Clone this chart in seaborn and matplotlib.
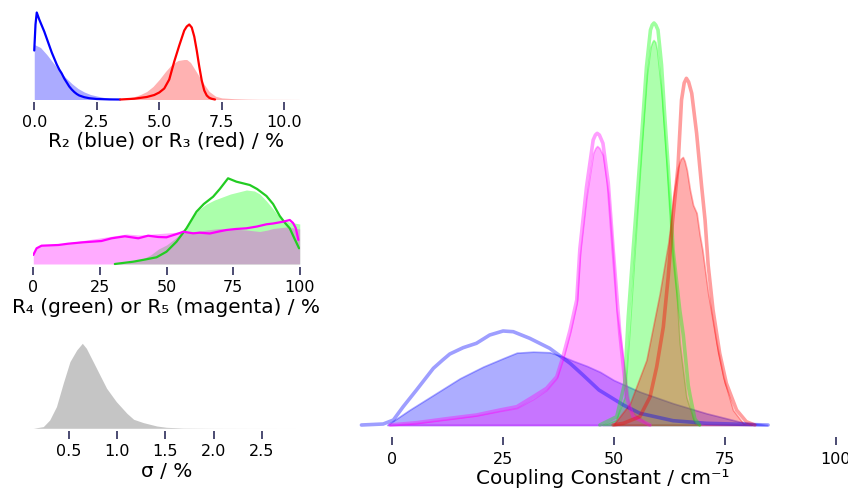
import numpy as np
import matplotlib
matplotlib.use("Agg")
import matplotlib.pyplot as plt
import seaborn as sns

# ---- panel 1: R2 (blue) / R3 (red), %
r2_hist_x = [0.0, 0.25, 0.5, 0.75, 1.0, 1.25, 1.5, 1.75, 2.0, 2.25, 2.5, 2.75, 3.0, 3.25, 3.5, 4.0]
r2_hist_y = [55, 52, 45, 37, 29, 22, 16, 11, 7.5, 5, 3.5, 2.2, 1.3, 0.7, 0.3, 0]
r2_kde_x = [0.0, 0.05, 0.1, 0.2, 0.3, 0.4, 0.5, 0.6, 0.7, 0.8, 0.9, 1.0, 1.1, 1.2, 1.3,
            1.4, 1.5, 1.6, 1.7, 1.8, 2.0, 2.2, 2.5, 3.0, 3.43]
r2_kde_y = [49, 75, 87, 80, 74, 68, 61, 54, 47, 41, 35, 30, 26, 21, 17,
            13, 10, 7.5, 5.5, 4, 2.3, 1.3, 0.5, 0.1, 0]
r3_hist_x = [3.4, 3.7, 4.0, 4.25, 4.5, 4.75, 5.0, 5.25, 5.5, 5.75, 6.0, 6.1, 6.25, 6.4,
             6.6, 6.8, 7.0, 7.25, 7.5, 8.0, 8.5, 9.0, 10.0, 10.6]
r3_hist_y = [0.3, 1.3, 2.8, 5, 8, 13, 20, 28, 35, 39, 40, 40, 37, 31,
             23, 15, 8, 3.3, 1.6, 0.8, 0.4, 0.2, 0.1, 0.05]
r3_kde_x = [3.44, 4.0, 4.5, 4.8, 5.0, 5.2, 5.4, 5.6, 5.8, 6.0, 6.1, 6.2, 6.3, 6.4, 6.5,
            6.6, 6.7, 6.8, 6.9, 7.0, 7.1, 7.23]
r3_kde_y = [0, 0.8, 2.5, 4.5, 7, 11, 20, 38, 54, 69, 73, 75, 72, 63, 49,
            33, 19, 9, 4, 1.7, 0.7, 0]

# ---- panel 2: R4 (green) / R5 (magenta), %
r4_hist_x = [31, 35, 38, 41, 44, 47, 50, 53, 56, 59, 62, 65, 68, 71, 74, 77, 80, 83, 85,
             87.5, 90, 92, 94, 96, 98, 100]
r4_hist_y = [0, 1, 2.5, 5, 9, 15, 19, 25, 32, 44, 54, 60, 64, 67, 70, 72, 74, 73, 70,
             63, 55, 48, 44, 42, 41, 40]
r4_kde_x = [30.6, 37.5, 42, 46.25, 50, 53.75, 57.5, 61.25, 64, 67.5, 70, 73.1, 76.25, 79,
            81.25, 84, 87.5, 90, 92.5, 94.5, 96.25, 98.1, 99.75]
r4_kde_y = [0, 2.3, 4.5, 6.7, 12.3, 22.3, 35.7, 52.3, 60, 67.3, 75, 85.7, 82.3, 80.5,
            79, 75, 68, 60, 48, 41, 35.7, 25, 15.7]
r5_hist_x = [0, 1, 3, 10, 15, 20, 25, 30, 35, 40, 45, 50, 55, 60, 65, 70, 75, 80, 85, 88,
             90, 95, 98, 100]
r5_hist_y = [10, 16, 19, 20, 22, 24, 26, 28, 30, 29, 30, 31, 32, 32, 34, 35.5, 35, 34, 32.5,
             34, 35.5, 37, 36, 35]
r5_kde_x = [0, 1.25, 3.1, 9.4, 13.1, 18.75, 25.6, 29.4, 34.4, 39.4, 43.1, 46.9, 50, 55,
            56.25, 60, 62.5, 66.25, 70, 72.5, 76, 80, 84, 87.5, 90, 93.75, 96.25, 97.5,
            98.5, 99.5]
r5_kde_y = [9, 15.7, 18.3, 19, 20.3, 21.7, 23, 25.7, 27.7, 25.7, 28.3, 27, 26.7, 31,
            32.3, 30.7, 31.3, 30.5, 32.7, 34, 35, 35.7, 37.5, 39.7, 40.5, 42.3, 44, 41,
            36, 24]

# ---- panel 3: sigma, %
sigma_x = [0.13, 0.234, 0.30, 0.37, 0.44, 0.51, 0.58, 0.638, 0.68, 0.75, 0.82, 0.89, 0.99,
           1.1, 1.17, 1.27, 1.41, 1.51, 1.68, 2.0, 2.5, 2.89]
sigma_y = [0, 1.7, 8.3, 21.7, 45, 66.7, 78.3, 85, 80, 66.7, 53.3, 40, 26.7,
           15, 9, 5.7, 2.3, 1, 0.3, 0.1, 0.03, 0]

# ---- big panel: coupling constants, cm-1
j_blue_hist_x = [-1, 4, 9.4, 15.4, 20.6, 25.1, 28.2, 31.9, 35.6, 38.6, 41, 44, 47, 50,
                 55.9, 63.4, 70.9, 78.4, 84.6]
j_blue_hist_y = [0, 15, 30, 46.7, 58.3, 66.7, 72.3, 73.3, 72.7, 68.3, 64, 59, 53, 45,
                 33.3, 21.7, 11.7, 3.3, 0]
j_blue_kde_x = [-6.8, -1.9, 0.4, 2.6, 5.6, 9.4, 11.5, 13.1, 16.1, 19.1, 22.1, 25.1, 27.4,
                31.1, 35.6, 40.2, 43.1, 46.7, 52.2, 55.9, 63.4, 70.9, 84.8]
j_blue_kde_y = [0, 1, 5, 18.3, 35, 56.7, 65, 71, 77.3, 81.7, 90, 94, 93.3,
                86.7, 76.7, 61.7, 50, 35, 20, 11.7, 4.3, 1.7, 0]
j_mag_hist_x = [-0.4, 5.6, 13.1, 19.1, 24.4, 28.2, 31.9, 34.9, 37.2, 38.6, 40.2, 41.7, 42.4,
                43.9, 45.4, 45.9, 46.3, 46.8, 47.6, 48.8, 49.9, 50.7, 52.2, 53.7, 57.4, 58.2]
j_mag_hist_y = [0, 2, 6, 9.5, 14, 17, 26, 35, 47, 66, 92, 122, 170,
                228, 272, 277, 279, 277, 270, 232, 170, 115, 65, 15, 1.7, 0]
j_mag_kde_x = [-0.4, 5.6, 13.1, 19.1, 24.4, 28.2, 31.9, 34.9, 37.2, 38.6, 40.2, 41.7, 42.4,
               43.9, 45.4, 45.9, 46.3, 46.8, 47.6, 48.8, 49.9, 51.4, 52.9, 54.4, 58.2]
j_mag_kde_y = [0, 2.3, 6.7, 10, 15, 18.3, 28.3, 36.7, 48.3, 68.3, 95, 125, 176,
               238, 285, 290, 291.7, 290, 281.7, 242, 175.7, 91.7, 28, 8.3, 0]
j_green_hist_x = [47.5, 50.5, 52.5, 53.5, 54.6, 55.5, 56.5, 57.5, 58.3, 58.7, 59.0, 59.4,
                  59.8, 60.8, 61.9, 62.7, 63.4, 64.2, 64.9, 66.4, 68.3, 69.4]
j_green_hist_y = [0, 5, 28, 90, 165, 225, 290, 350, 378, 383, 385, 383,
                  375, 332, 265, 215, 170, 131.7, 81.7, 28, 1.7, 0]
j_green_kde_x = [46.9, 50.7, 52.5, 53.3, 54.4, 55.5, 56.5, 57.4, 58.3, 58.7, 59.1, 59.5,
                 60.0, 60.8, 61.5, 62.3, 63.1, 63.4, 64.9, 65.7, 66.8, 67.2, 68.3, 69.4]
j_green_kde_y = [0, 8.3, 41.7, 108, 175, 240, 300, 358, 395, 400, 402, 400,
                 395, 360, 310, 258, 200, 175, 115, 90, 40, 30, 6, 0]
j_red_hist_x = [49.9, 53.7, 57.4, 60.4, 62.3, 62.7, 63.4, 64.5, 65.1, 65.6, 66.0, 66.5,
                67.2, 67.9, 68.7, 69.4, 70.0, 71.3, 73.2, 74.7, 76.9, 79.2, 81.1]
j_red_hist_y = [0, 21.7, 65, 131.7, 181.7, 195, 228, 258, 266, 268, 264, 255,
                235, 220, 212, 190, 175, 131.7, 81.7, 48.3, 15, 1.7, 0]
j_red_kde_x = [49.9, 52.2, 55.9, 58.2, 59.7, 61.2, 62.3, 63.2, 64.5, 65.3, 65.9, 66.4,
               66.9, 67.6, 68.7, 69.8, 70.6, 71.3, 72.4, 73.9, 75.4, 77.7, 79.9, 81.8]
j_red_kde_y = [0, 1.7, 8.3, 28, 58, 98, 148, 200, 258, 325, 342, 346.7,
               343, 331.7, 291.7, 240, 205, 160, 115, 71.7, 41.7, 15, 3.3, 0]

sns.set_style("white")
plt.rcParams['font.family'] = ['DejaVu Sans']

W, H = 848, 488
fig = plt.figure(figsize=(W / 100, H / 100), dpi=100)


def px_axes(left, right, top, bottom):
    # axes box given in pixel coords of the output picture
    return fig.add_axes([left / W, 1 - bottom / H, (right - left) / W, (bottom - top) / H])


def style(ax, ticks, labels, xlabel, pad, lpad):
    sns.despine(ax=ax, left=True, bottom=True)
    ax.set_yticks([])
    ax.set_xticks(ticks)
    ax.set_xticklabels(labels)
    ax.tick_params(axis='x', direction='out', length=6, width=1.2, color='#2c2c5a',
                   labelsize=11.5, labelcolor='black', pad=pad, bottom=True)
    ax.set_xlabel(xlabel, fontsize=14.4, color='black', labelpad=lpad)
    ax.set_ylabel("")
    ax.patch.set_alpha(0)


# panel 1
ax1 = px_axes(33, 300, 10, 102)
ax1.fill_between(r2_hist_x, r2_hist_y, color='blue', alpha=0.33, lw=0)
ax1.fill_between(r3_hist_x, r3_hist_y, color='red', alpha=0.3, lw=0)
sns.lineplot(x=r2_kde_x, y=r2_kde_y, ax=ax1, color='#0000ff', linewidth=1.6)
sns.lineplot(x=r3_kde_x, y=r3_kde_y, ax=ax1, color='#ff0000', linewidth=1.6)
ax1.set_xlim(-0.05, 10.63)
ax1.set_ylim(-2.5, 89.5)
style(ax1, [0, 2.5, 5, 7.5, 10], ["0.0", "2.5", "5.0", "7.5", "10.0"],
      "R\u2082 (blue) or R\u2083 (red) / %", 3.5, 1)

# panel 2
ax2 = px_axes(33, 300, 175, 267)
ax2.fill_between(r4_hist_x, r4_hist_y, color='lime', alpha=0.33, lw=0)
ax2.fill_between(r5_hist_x, r5_hist_y, color='magenta', alpha=0.33, lw=0)
sns.lineplot(x=r4_kde_x, y=r4_kde_y, ax=ax2, color='#22cc22', linewidth=1.6)
sns.lineplot(x=r5_kde_x, y=r5_kde_y, ax=ax2, color='#ff00ff', linewidth=1.6)
ax2.set_xlim(-0.1, 100.1)
ax2.set_ylim(-3, 89)
style(ax2, [0, 25, 50, 75, 100], ["0", "25", "50", "75", "100"],
      "R\u2084 (green) or R\u2085 (magenta) / %", 3.5, 2)

# panel 3
ax3 = px_axes(33, 300, 340, 431)
ax3.fill_between(sigma_x, sigma_y, color='grey', alpha=0.45, lw=0)
ax3.set_xlim(0.127, 2.894)
ax3.set_ylim(-2.7, 88.3)
style(ax3, [0.5, 1.0, 1.5, 2.0, 2.5], ["0.5", "1.0", "1.5", "2.0", "2.5"],
      "\u03c3 / %", 3.5, 2)

# big panel
ax4 = px_axes(357, 848, 20, 437)
for hx, hy, kx, ky, c in [
        (j_blue_hist_x, j_blue_hist_y, j_blue_kde_x, j_blue_kde_y, 'blue'),
        (j_mag_hist_x, j_mag_hist_y, j_mag_kde_x, j_mag_kde_y, 'magenta'),
        (j_green_hist_x, j_green_hist_y, j_green_kde_x, j_green_kde_y, 'lime'),
        (j_red_hist_x, j_red_hist_y, j_red_kde_x, j_red_kde_y, 'red')]:
    ax4.fill_between(hx, hy, color=c, alpha=0.32, lw=1.2)
    sns.lineplot(x=kx, y=ky, ax=ax4, color=c, alpha=0.38, linewidth=2.6)
ax4.set_xlim(-7.8, 102.8)
ax4.set_ylim(-12, 405)
style(ax4, [0, 25, 50, 75, 100], ["0", "25", "50", "75", "100"],
      "Coupling Constant / cm\u207b\u00b9", 4.5, 1.5)

fig.savefig("out.png", dpi=100)
